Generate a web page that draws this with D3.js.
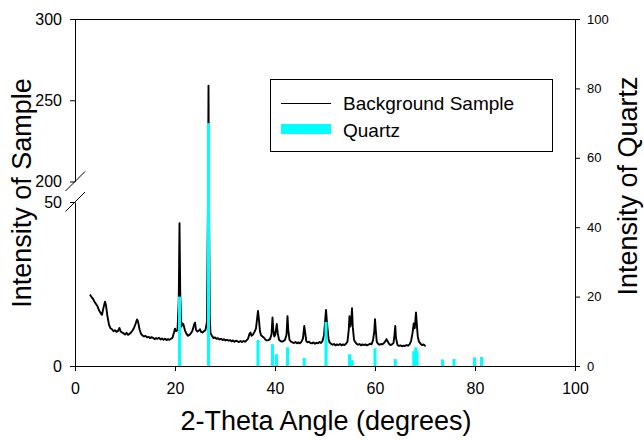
<!DOCTYPE html>
<html>
<head>
<meta charset="utf-8">
<script src="https://cdn.jsdelivr.net/npm/d3@7"></script>
<style>
  html, body { margin: 0; padding: 0; background: #fff; }
  svg { display: block; font-family: "Liberation Sans", Arial, Helvetica, sans-serif; }
</style>
</head>
<body>
<svg id="chart" width="644" height="440"></svg>
<script>
// ---- data ----
const sampleAngles = [
  3.0,3.3,3.6,3.9,4.2,4.5,4.8,5.1,5.4,5.7,6.0,6.2,6.5,6.8,7.1,7.4,7.7,8.0,8.3,8.6,8.9,9.1,9.4,9.7,
  10.0,10.3,10.6,10.9,11.2,11.5,11.8,12.1,12.4,12.6,12.9,13.2,13.5,13.8,14.1,14.4,14.7,15.0,15.3,15.6,15.9,
  16.2,16.5,16.8,17.1,17.4,17.7,18.0,18.3,18.6,18.9,19.2,19.5,19.8,20.0,20.2,20.5,20.75,20.9,21.05,21.25,
  21.5,21.7,22.0,22.3,22.6,22.9,23.2,23.5,23.8,24.0,24.2,24.5,24.8,25.0,25.2,25.5,25.8,26.1,26.4,26.6,26.7,
  26.8,26.95,27.1,27.4,27.7,28.0,28.3,28.6,28.9,29.2,29.5,29.8,30.1,30.4,30.7,31.0,31.3,31.6,31.9,32.2,32.5,
  32.8,33.1,33.4,33.7,34.0,34.3,34.6,34.9,35.1,35.3,35.6,35.9,36.2,36.6,36.8,37.0,37.2,37.5,37.8,38.1,38.4,
  38.7,39.0,39.3,39.5,39.65,39.85,40.05,40.35,40.55,40.8,41.1,41.4,41.7,42.0,42.3,42.5,42.65,42.9,43.2,43.5,
  43.8,44.1,44.4,44.7,45.0,45.3,45.6,45.85,46.05,46.25,46.5,46.8,47.1,47.4,47.7,48.0,48.3,48.6,48.9,49.2,
  49.5,49.8,50.2,50.4,50.7,50.9,51.2,51.5,51.8,52.1,52.4,52.7,53.0,53.3,53.6,53.9,54.2,54.5,54.75,54.9,55.05,
  55.25,55.4,55.55,55.8,56.0,56.3,56.6,56.9,57.2,57.5,57.8,58.1,58.4,58.7,59.0,59.3,59.6,59.85,60.0,60.15,
  60.35,60.6,60.9,61.2,61.5,61.8,62.1,62.3,62.5,62.8,63.1,63.4,63.7,63.9,64.05,64.2,64.5,64.8,65.1,65.4,
  65.7,66.0,66.3,66.6,66.9,67.2,67.5,67.75,67.95,68.2,68.35,68.55,68.8,69.1,69.4,69.7,70.0,70.1
];
const sampleIntensity = [
  21.8,21.0,20.5,19.6,18.9,18.2,17.0,16.2,15.6,17.8,19.6,18.5,15.0,12.6,11.5,11.2,10.6,10.9,10.4,10.7,11.6,10.6,10.2,10.0,
  9.6,10.1,9.5,9.8,10.2,10.8,11.6,12.8,14.2,13.6,11.2,9.8,9.3,9.0,9.2,8.7,8.9,8.5,8.8,8.6,8.2,
  8.5,8.3,8.6,8.1,8.4,8.0,8.3,7.9,8.2,8.0,8.3,8.6,10.2,11.4,10.6,11.0,20.0,43.5,22.0,12.0,
  13.0,12.6,10.8,9.8,9.2,9.5,10.0,10.8,12.5,13.2,11.0,10.5,10.8,11.2,10.4,10.2,10.6,11.0,13.5,80,259,
  90,15,10.0,9.2,8.5,8.7,8.3,8.5,8.1,8.3,7.9,8.2,7.8,8.0,7.7,7.9,7.5,7.8,7.4,7.7,7.5,
  7.3,7.6,7.3,7.6,7.4,7.8,8.3,9.8,10.2,9.2,9.6,10.4,11.5,16.8,14.0,10.5,9.4,9.0,8.6,8.0,7.8,
  7.9,8.2,9.6,14.8,11.0,9.0,9.5,12.8,10.0,8.0,7.6,7.4,7.6,8.0,9.5,15.2,11.0,8.0,7.4,7.2,
  7.0,7.3,6.9,7.2,6.9,7.4,8.4,12.2,10.0,7.6,7.2,7.4,7.0,6.9,7.2,6.8,7.1,6.9,7.3,7.0,
  7.6,9.4,17.1,13.0,8.4,7.2,6.8,6.5,6.7,6.3,6.6,6.4,6.7,6.3,6.6,6.4,6.8,7.5,11.0,15.2,12.0,
  13.5,17.6,12.0,8.0,7.4,6.8,6.5,6.7,6.3,6.6,6.4,6.6,6.3,6.5,6.8,6.6,7.8,10.5,14.3,11.0,
  7.4,6.8,6.5,6.7,6.6,7.0,7.6,8.2,7.6,6.8,6.4,6.6,7.0,9.5,12.2,8.5,6.4,6.1,6.3,6.0,
  6.2,6.1,6.4,6.2,6.6,7.5,10.0,13.0,11.5,16.3,13.0,9.0,7.4,6.8,6.4,6.6,6.2,6.4
];
const quartzAngles = [20.9,26.7,36.6,39.5,40.3,42.5,45.85,50.2,54.9,55.4,60.0,64.05,67.75,68.15,68.4,73.5,75.8,79.9,81.3];
const quartzIntensity = [20,70,7.5,6.3,3.4,5.4,2.3,12.7,3.4,1.7,5.1,2.0,4.3,5.4,4.3,1.9,2.0,2.5,2.6];
const xTicks = [0,20,40,60,80,100];
const leftLowerTicks = [0,50];
const leftUpperTicks = [200,250,300];
const rightTicks = [0,20,40,60,80,100];
const legendLabels = ["Background Sample","Quartz"];

// ---- layout ----
const svg = d3.select("#chart");
const X0 = 75, X1 = 575, YB = 366, YT = 19;
const yLowTop = 202, yUpBot = 181.5;

const x = d3.scaleLinear().domain([0,100]).range([X0,X1]);
const yL = d3.scaleLinear().domain([0,50,200,300]).range([YB,yLowTop,yUpBot,YT]);
const yLower = d3.scaleLinear().domain([0,50]).range([YB,yLowTop]);
const yUpper = d3.scaleLinear().domain([200,300]).range([yUpBot,YT]);
const yR = d3.scaleLinear().domain([0,100]).range([YB,YT]);

// sample line
const pts = sampleAngles.map((a,i)=>[a,sampleIntensity[i]]);
const line = d3.line().x(d=>x(d[0])).y(d=>yL(d[1]));
svg.append("path").datum(pts)
  .attr("d", line).attr("fill","none").attr("stroke","#000")
  .attr("stroke-width",1.9).attr("stroke-linejoin","round");

// quartz sticks
svg.append("g").selectAll("line").data(quartzAngles).join("line")
  .attr("x1",d=>x(d)).attr("x2",d=>x(d))
  .attr("y1",yR(0)).attr("y2",(d,i)=>yR(quartzIntensity[i]))
  .attr("stroke","#00ffff").attr("stroke-width",3);

// axes
function style(g, fs){
  g.selectAll("text").attr("font-size",fs).attr("fill","#000")
   .attr("font-family","'Liberation Sans', Arial, sans-serif");
  g.selectAll("line,path").attr("stroke","#000");
}
svg.append("g").attr("transform",`translate(0,${YB})`)
  .call(d3.axisBottom(x).tickValues(xTicks).tickFormat(d3.format("d")).tickSize(5).tickSizeOuter(0).tickPadding(12))
  .call(g=>style(g,16));
svg.append("g").attr("transform",`translate(${X0},0)`)
  .call(d3.axisLeft(yLower).tickValues(leftLowerTicks).tickFormat(d3.format("d")).tickSize(5).tickSizeOuter(0).tickPadding(8))
  .call(g=>style(g,16));
svg.append("g").attr("transform",`translate(${X0},0)`)
  .call(d3.axisLeft(yUpper).tickValues(leftUpperTicks).tickFormat(d3.format("d")).tickSize(5).tickSizeOuter(0).tickPadding(8))
  .call(g=>style(g,16));
svg.append("g").attr("transform",`translate(${X1},0)`)
  .call(d3.axisRight(yR).tickValues(rightTicks).tickFormat(d3.format("d")).tickSize(5).tickSizeOuter(0).tickPadding(7))
  .call(g=>style(g,13));
// top frame
svg.append("line").attr("x1",X0).attr("x2",X1).attr("y1",YT+0.5).attr("y2",YT+0.5).attr("stroke","#000");

// break marks
[yUpBot, yLowTop].forEach(yy=>{
  svg.append("line").attr("x1",X0-9.5).attr("y1",yy+9.5).attr("x2",X0+10).attr("y2",yy-10)
    .attr("stroke","#000").attr("stroke-width",1);
});

// titles
svg.append("text").attr("transform","translate(31,193) rotate(-90)")
  .attr("text-anchor","middle").attr("font-size",27).text("Intensity of Sample");
svg.append("text").attr("transform","translate(637,186) rotate(-90)")
  .attr("text-anchor","middle").attr("font-size",27).text("Intensity of Quartz");
svg.append("text").attr("x",326).attr("y",430)
  .attr("text-anchor","middle").attr("font-size",27).text("2-Theta Angle (degrees)");

// legend
const lg = svg.append("g");
lg.append("rect").attr("x",270.5).attr("y",79.5).attr("width",282).attr("height",72)
  .attr("fill","#fff").attr("stroke","#000").attr("stroke-width",1);
lg.append("line").attr("x1",281).attr("x2",331).attr("y1",103.5).attr("y2",103.5)
  .attr("stroke","#000").attr("stroke-width",1);
lg.append("rect").attr("x",281).attr("y",124).attr("width",50).attr("height",10).attr("fill","#00ffff");
lg.append("text").attr("x",343).attr("y",110).attr("font-size",19).text(legendLabels[0]);
lg.append("text").attr("x",343).attr("y",137).attr("font-size",19).text(legendLabels[1]);
</script>
</body>
</html>
